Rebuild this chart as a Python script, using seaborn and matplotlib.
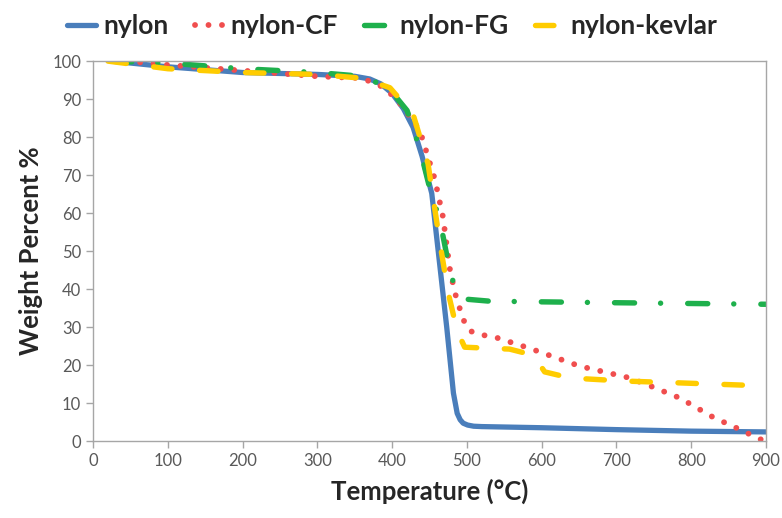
import seaborn as sns
import matplotlib
matplotlib.use('Agg')
import matplotlib.pyplot as plt
import pandas as pd

# temperature (C) and weight percent
nylon_t = [25, 100, 200, 300, 350, 370, 385, 400, 415, 428, 440, 453, 463, 473, 482, 487, 491, 495, 501, 509, 520, 600, 700, 800, 900]
nylon_w = [100, 98.5, 97, 96.5, 96, 95.3, 94, 91.5, 87.5, 82.6, 75, 65.2, 47.6, 30, 12.6, 7.3, 5.6, 4.7, 4.2, 3.9, 3.8, 3.5, 3.0, 2.6, 2.4]

cf_t = [45, 100, 200, 300, 360, 390, 410, 437, 457, 468, 477, 484, 495, 504, 517, 535, 584, 651, 718, 749, 785, 829, 861, 892, 900]
cf_w = [100, 99, 97.5, 96, 95.5, 93, 89, 81.8, 69, 59, 45.5, 39, 32, 29, 28, 27.5, 24.4, 19.7, 16.6, 14.2, 11.3, 6.3, 3.4, 0.5, 0]

fg_t = [25, 100, 200, 300, 360, 395, 420, 437, 451, 464, 478, 488, 495, 531, 700, 900]
fg_w = [100, 99.5, 98, 97, 96, 93, 87, 77, 66, 58, 44, 38.5, 37.4, 36.8, 36.4, 36]

kev_t = [20, 100, 200, 300, 360, 397, 428, 448, 464, 475, 487, 497, 531, 557, 589, 604, 638, 709, 785, 900]
kev_w = [100, 98, 97, 96.5, 95.5, 93, 86, 73, 52, 39, 29, 24.7, 24.4, 24.2, 22.6, 18.2, 16.6, 15.8, 15.3, 14.5]

x_ticks = list(range(0, 1000, 100))
y_ticks = list(range(0, 110, 10))

sns.set_style('white')
plt.rcParams['font.family'] = ['Lato', 'DejaVu Sans']

fig = plt.figure(figsize=(7.82, 5.18), dpi=100)
ax = fig.add_axes([0.119, 0.1486, 0.8605, 0.7334])

series = [
    ('nylon', nylon_t, nylon_w, '#4a7ebb', '-', 3.8),
    ('nylon-CF', cf_t, cf_w, '#f04e4e', (0, (0.01, 2.3)), 4.2),
    ('nylon-FG', fg_t, fg_w, '#1eb04c', (0, (3.7, 4.8, 0.01, 5.0)), 3.9),
    ('nylon-kevlar', kev_t, kev_w, '#ffcc00', (0, (3.4, 5.1)), 3.9),
]
for name, t, w, col, ls, lw in series:
    df = pd.DataFrame({'T': t, 'W': w})
    sns.lineplot(data=df, x='T', y='W', ax=ax, color=col, linewidth=lw,
                 linestyle=ls, label=name, solid_capstyle='round',
                 dash_capstyle='round')

ax.set_xlim(0, 900)
ax.set_ylim(0, 100)
ax.set_xticks(x_ticks)
ax.set_yticks(y_ticks)
ax.tick_params(axis='both', direction='out', length=5, width=1, color='#a6a6a6',
               labelsize=12, labelcolor='#595959', bottom=True, left=True)
for s in ax.spines.values():
    s.set_color('#a6a6a6')
    s.set_linewidth(1)

ax.set_xlabel('Temperature (°C)', fontsize=18.5, fontweight='bold', labelpad=7)
ax.set_ylabel('Weight Percent %', fontsize=18.5, fontweight='bold', labelpad=7)

leg = ax.legend(loc='center', bbox_to_anchor=(0.445, 1.092), ncol=4,
                frameon=False, handlelength=1.1, columnspacing=1.0,
                handletextpad=0.25, borderaxespad=0.0,
                prop={'weight': 'bold', 'size': 19})

fig.savefig('out.png', dpi=100)
